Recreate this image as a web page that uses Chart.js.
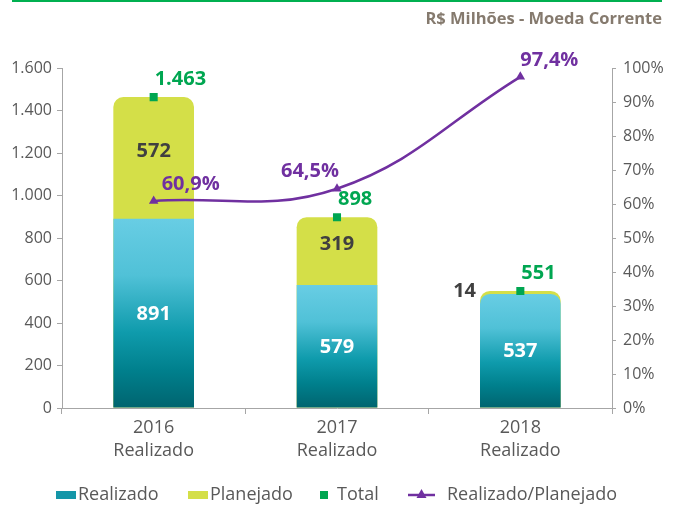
<!DOCTYPE html>
<html>
<head>
<meta charset="utf-8">
<script src="https://cdn.jsdelivr.net/npm/chart.js@4"></script>
<style>
  html, body { margin: 0; padding: 0; background: #fff; }
  #wrap { width: 679px; height: 505px; position: relative; }
</style>
</head>
<body>
<div id="wrap"><canvas id="c"></canvas></div>
<script>
// ---- Data ----
const categories = [['2016', 'Realizado'], ['2017', 'Realizado'], ['2018', 'Realizado']];
const realizado = [891, 579, 537];
const planejado = [572, 319, 14];
const total = [1463, 898, 551];
const ratio = [60.9, 64.5, 97.4];
const leftAxisMax = 1600;
const leftAxisStep = 200;
const rightAxisMax = 100;
const rightAxisStep = 10;
const seriesNames = ['Realizado', 'Planejado', 'Total', 'Realizado/Planejado'];
const unitTitle = 'R$ Milhões - Moeda Corrente';

// ---- Styles ----
const FONT = '"Open Sans", "Noto Sans", sans-serif';
const GRAY = '#595959';
const AXIS = '#a6a6a6';
const LIME = '#d4df48';
const GREEN = '#00a651';
const PURPLE = '#7030a0';
const TEAL = '#1496a8';

function fmtInt(v) {
  return String(Math.round(v)).replace(/\B(?=(\d{3})+(?!\d))/g, '.');
}
function fmtPct(v) {
  return v.toFixed(1).replace('.', ',') + '%';
}
function tinyPlan(i) {
  return planejado[i] / (realizado[i] + planejado[i]) < 0.05;
}

function tealGradient(ctx) {
  const chart = ctx.chart;
  if (!chart.chartArea || ctx.type !== 'data') return TEAL;
  const y = chart.scales.y;
  const top = y.getPixelForValue(realizado[ctx.dataIndex]);
  const bot = y.getPixelForValue(0);
  const g = chart.ctx.createLinearGradient(0, top, 0, bot);
  g.addColorStop(0, '#68cde4');
  g.addColorStop(0.3, '#50c1d7');
  g.addColorStop(0.6, '#0f9bac');
  g.addColorStop(0.8, '#00808d');
  g.addColorStop(1, '#00646f');
  return g;
}

const labelPlugin = {
  id: 'valueLabels',
  afterDatasetsDraw(chart) {
    const c = chart.ctx;
    const mR = chart.getDatasetMeta(0);
    const mT = chart.getDatasetMeta(2);
    const mL = chart.getDatasetMeta(3);
    const y = chart.scales.y;
    c.save();
    c.font = 'bold 20px ' + FONT;
    c.textBaseline = 'middle';
    mR.data.forEach((bar, i) => {
      const p = bar.getProps(['x', 'y', 'base', 'width'], true);
      c.fillStyle = '#ffffff';
      c.textAlign = 'center';
      c.fillText(fmtInt(realizado[i]), p.x, (p.y + p.base) / 2 + 1);
      // Planejado segment label
      const pTop = y.getPixelForValue(realizado[i] + planejado[i]);
      const pBot = p.y;
      c.fillStyle = '#404040';
      if (pBot - pTop < 24) {
        c.textAlign = 'right';
        c.fillText(fmtInt(planejado[i]), p.x - p.width / 2 - 4, (pTop + pBot) / 2 - 1);
      } else {
        c.textAlign = 'center';
        c.fillText(fmtInt(planejado[i]), p.x, (pTop + pBot) / 2 - 7);
      }
    });
    mT.data.forEach((pt, i) => {
      c.fillStyle = GREEN;
      c.textAlign = 'left';
      c.fillText(fmtInt(total[i]), pt.x + 1, pt.y - 18);
    });
    mL.data.forEach((pt, i) => {
      c.fillStyle = PURPLE;
      const last = mL.data.length - 1;
      const mid = i > 0 && i < last;
      c.textAlign = mid ? 'right' : 'left';
      c.fillText(fmtPct(ratio[i]), pt.x + (mid ? 2 : (i === last ? 0 : 8)), pt.y - 17);
    });
    c.restore();
  },
  afterDraw(chart) {
    const c = chart.ctx;
    c.save();
    // top green rule
    c.fillStyle = '#00b050';
    c.fillRect(12, 0, 650, 2);
    // unit title
    c.font = 'bold 16.5px ' + FONT;
    c.fillStyle = '#857a6e';
    c.textAlign = 'right';
    c.textBaseline = 'middle';
    c.fillText(unitTitle, 662, 19);
    // legend
    const ly = 495;
    c.font = '18px ' + FONT;
    c.textAlign = 'left';
    let x = 56;
    c.fillStyle = TEAL; c.fillRect(x, ly - 4, 20, 8);
    c.fillStyle = GRAY; c.fillText(seriesNames[0], x + 22, ly);
    x = 188;
    c.fillStyle = LIME; c.fillRect(x, ly - 4, 20, 8);
    c.fillStyle = GRAY; c.fillText(seriesNames[1], x + 22, ly);
    x = 320;
    c.fillStyle = GREEN; c.fillRect(x, ly - 4, 8, 8);
    c.fillStyle = GRAY; c.fillText(seriesNames[2], x + 17, ly);
    x = 408;
    c.strokeStyle = PURPLE; c.lineWidth = 2.5;
    c.beginPath(); c.moveTo(x, ly); c.lineTo(x + 27, ly); c.stroke();
    c.fillStyle = PURPLE;
    c.beginPath(); c.moveTo(x + 13.5, ly - 6); c.lineTo(x + 18.5, ly + 3); c.lineTo(x + 8.5, ly + 3); c.closePath(); c.fill();
    c.fillStyle = GRAY; c.fillText(seriesNames[3], x + 39, ly);
    c.restore();
  }
};

const ctx = document.getElementById('c');
new Chart(ctx, {
  data: {
    labels: categories,
    datasets: [
      {
        // Realizado: bottom part of each column
        type: 'bar', label: seriesNames[0], data: realizado,
        backgroundColor: tealGradient,
        borderRadius: (ctx) => tinyPlan(ctx.dataIndex)
          ? { topLeft: 10, topRight: 10, bottomLeft: 0, bottomRight: 0 }
          : { topLeft: 0, topRight: 0, bottomLeft: 0, bottomRight: 0 },
        borderSkipped: 'start', grouped: false,
        yAxisID: 'y', order: 2,
        categoryPercentage: 1, barPercentage: 0.44
      },
      {
        // Planejado: stacked on top of Realizado (drawn as the full column behind it)
        type: 'bar', label: seriesNames[1],
        data: planejado.map((v, i) => [0, realizado[i] + v]),
        backgroundColor: LIME,
        borderRadius: 10, borderSkipped: 'start', grouped: false,
        yAxisID: 'y', order: 3,
        categoryPercentage: 1, barPercentage: 0.44
      },
      {
        type: 'line', label: seriesNames[2], data: total,
        showLine: false, pointStyle: 'rect', pointRadius: 5.7, pointHoverRadius: 5.7,
        backgroundColor: GREEN, borderColor: GREEN, borderWidth: 0,
        yAxisID: 'y', order: 0
      },
      {
        type: 'line', label: seriesNames[3], data: ratio,
        borderColor: PURPLE, backgroundColor: PURPLE, borderWidth: 2.5,
        tension: 0.4, pointStyle: 'triangle', pointRadius: 5.5, pointBorderWidth: 0,
        yAxisID: 'y1', order: 1
      }
    ]
  },
  options: {
    responsive: true,
    maintainAspectRatio: false,
    animation: false,
    layout: { padding: { top: 68, bottom: 37, left: 0, right: 0 } },
    plugins: { legend: { display: false }, tooltip: { enabled: false }, title: { display: false } },
    scales: {
      x: {
        offset: true,
        grid: { display: true, drawOnChartArea: false, drawTicks: true, tickLength: 6, color: AXIS, offset: true },
        border: { display: true, color: AXIS, width: 1 },
        ticks: { color: GRAY, font: { family: FONT, size: 18, lineHeight: 1.3 }, padding: 2, maxRotation: 0 },
        afterFit: (s) => { s.height = 60; }
      },
      y: {
        position: 'left', min: 0, max: leftAxisMax,
        grid: { display: true, drawOnChartArea: false, tickLength: 5, color: AXIS },
        border: { display: true, color: AXIS, width: 1 },
        ticks: { stepSize: leftAxisStep, color: GRAY, padding: 5, font: { family: FONT, size: 16 }, callback: (v) => fmtInt(v) },
        afterFit: (s) => { s.width = 62; }
      },
      y1: {
        position: 'right', min: 0, max: rightAxisMax,
        grid: { display: true, drawOnChartArea: false, tickLength: 4, color: AXIS },
        border: { display: true, color: AXIS, width: 1 },
        ticks: { stepSize: rightAxisStep, color: GRAY, padding: 7, font: { family: FONT, size: 16 }, callback: (v) => v + '%' },
        afterFit: (s) => { s.width = 67; }
      }
    }
  },
  plugins: [labelPlugin]
});
</script>
</body>
</html>
